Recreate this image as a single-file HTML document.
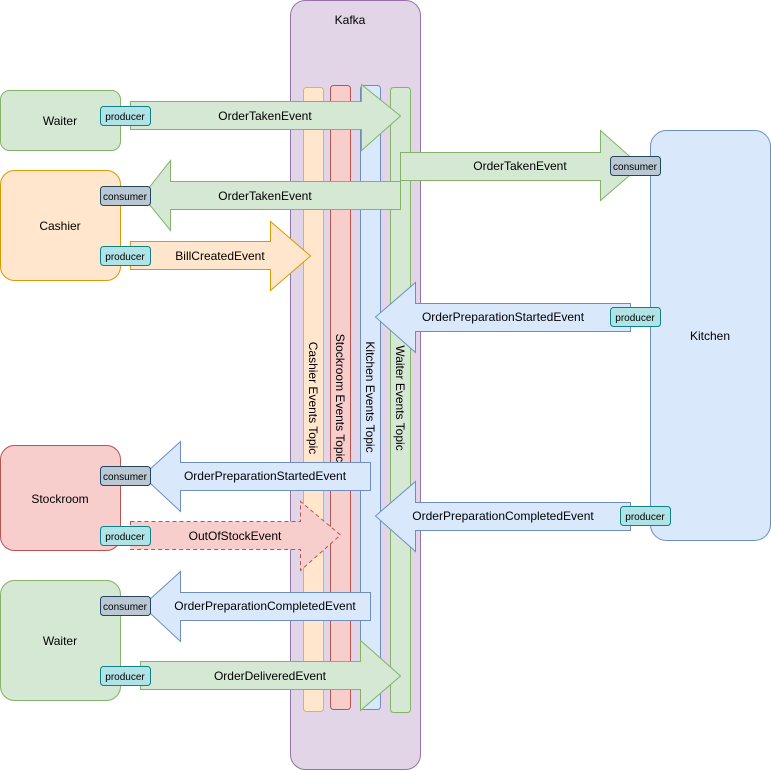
<!DOCTYPE html>
<html><head><meta charset="utf-8"><style>body{margin:0;background:#fff}svg{display:block}text{font-family:"Liberation Sans",Arial,sans-serif}</style></head><body>
<svg width="771" height="771" viewBox="0 0 771 771" xmlns="http://www.w3.org/2000/svg">
<rect x="290.5" y="0.5" width="130" height="769" rx="15" fill="#e1d5e7" stroke="#9673a6"/>
<text x="350" y="24" font-size="12" text-anchor="middle">Kafka</text>
<rect x="303.5" y="87.5" width="20" height="624" rx="3" fill="#ffe6cc" stroke="#d6b656"/>
<rect x="330.5" y="85.5" width="20" height="624" rx="3" fill="#f8cecc" stroke="#b85450"/>
<rect x="360.5" y="85.5" width="20" height="624" rx="3" fill="#dae8fc" stroke="#6c8ebf"/>
<rect x="390.5" y="87.5" width="20" height="625" rx="3" fill="#d5e8d4" stroke="#82b366"/>
<g font-size="12" text-anchor="middle">
<text transform="translate(309,398) rotate(90)">Cashier Events Topic</text>
<text transform="translate(336,398) rotate(90)">Stockroom Events Topic</text>
<text transform="translate(366,397) rotate(90)">Kitchen Events Topic</text>
<text transform="translate(396,398) rotate(90)">Waiter Events Topic</text>
</g>
<g font-size="12" text-anchor="middle">
<rect x="0.5" y="90.5" width="120" height="60" rx="9" fill="#d5e8d4" stroke="#82b366"/><text x="60" y="125">Waiter</text>
<rect x="0.5" y="170.5" width="120" height="110" rx="14" fill="#ffe6cc" stroke="#d79b00"/><text x="60" y="230">Cashier</text>
<rect x="0.5" y="445.5" width="120" height="105" rx="14" fill="#f8cecc" stroke="#b85450"/><text x="60" y="503">Stockroom</text>
<rect x="0.5" y="580.5" width="120" height="120" rx="14" fill="#d5e8d4" stroke="#82b366"/><text x="60" y="645">Waiter</text>
<rect x="650.5" y="130.5" width="120" height="410" rx="16" fill="#dae8fc" stroke="#6c8ebf"/><text x="710" y="340">Kitchen</text>
</g>
<g font-size="12" text-anchor="middle">
<polygon points="130.5,101.5 361.5,101.5 361.5,84.5 400.5,116 361.5,150.5 361.5,129.5 130.5,129.5" fill="#d5e8d4" stroke="#82b366"/><text x="265" y="120">OrderTakenEvent</text>
<polygon points="400.5,152.5 600.5,152.5 600.5,130.5 640.5,166 600.5,200.5 600.5,180.5 400.5,180.5" fill="#d5e8d4" stroke="#82b366"/><text x="520" y="170">OrderTakenEvent</text>
<polygon points="400.5,181.5 170.5,181.5 170.5,160.5 142.5,196 170.5,230.5 170.5,209.5 400.5,209.5" fill="#d5e8d4" stroke="#82b366"/><text x="265" y="200">OrderTakenEvent</text>
<polygon points="130.5,241.5 270.5,241.5 270.5,221.5 310.5,256 270.5,290.5 270.5,269.5 130.5,269.5" fill="#ffe6cc" stroke="#d79b00"/><text x="220" y="260">BillCreatedEvent</text>
<polygon points="630.5,303.5 415.5,303.5 415.5,282.5 375.5,317 415.5,352.5 415.5,331.5 630.5,331.5" fill="#dae8fc" stroke="#6c8ebf"/><text x="503" y="321">OrderPreparationStartedEvent</text>
<polygon points="370.5,462.5 180.5,462.5 180.5,441.5 142.5,476 180.5,511.5 180.5,490.5 370.5,490.5" fill="#dae8fc" stroke="#6c8ebf"/><text x="265" y="480">OrderPreparationStartedEvent</text>
<polygon points="130.5,521.5 300.5,521.5 300.5,501.5 340.5,535 300.5,570.5 300.5,549.5 130.5,549.5" fill="#f8cecc" stroke="#b85450" stroke-dasharray="4 3"/><text x="235" y="540">OutOfStockEvent</text>
<polygon points="630.5,502.5 415.5,502.5 415.5,481.5 375.5,516 415.5,551.5 415.5,530.5 630.5,530.5" fill="#dae8fc" stroke="#6c8ebf"/><text x="503" y="520">OrderPreparationCompletedEvent</text>
<polygon points="370.5,592.5 180.5,592.5 180.5,571.5 142.5,606 180.5,641.5 180.5,620.5 370.5,620.5" fill="#dae8fc" stroke="#6c8ebf"/><text x="265" y="610">OrderPreparationCompletedEvent</text>
<polygon points="140.5,661.5 360.5,661.5 360.5,640.5 400.5,676 360.5,710.5 360.5,689.5 140.5,689.5" fill="#d5e8d4" stroke="#82b366"/><text x="270" y="680">OrderDeliveredEvent</text>
</g>
<g font-size="10" text-anchor="middle">
<rect x="100.5" y="106.5" width="50" height="19" rx="3" fill="#b0e3e6" stroke="#0e8088"/><text x="125" y="120">producer</text>
<rect x="100.5" y="186.5" width="50" height="19" rx="3" fill="#bac8d3" stroke="#23445d"/><text x="125" y="200">consumer</text>
<rect x="100.5" y="246.5" width="50" height="19" rx="3" fill="#b0e3e6" stroke="#0e8088"/><text x="125" y="260">producer</text>
<rect x="610.5" y="156.5" width="50" height="19" rx="3" fill="#bac8d3" stroke="#23445d"/><text x="635" y="170">consumer</text>
<rect x="610.5" y="307.5" width="50" height="19" rx="3" fill="#b0e3e6" stroke="#0e8088"/><text x="635" y="321">producer</text>
<rect x="100.5" y="466.5" width="50" height="19" rx="3" fill="#bac8d3" stroke="#23445d"/><text x="125" y="480">consumer</text>
<rect x="100.5" y="526.5" width="50" height="19" rx="3" fill="#b0e3e6" stroke="#0e8088"/><text x="125" y="540">producer</text>
<rect x="620.5" y="506.5" width="50" height="19" rx="3" fill="#b0e3e6" stroke="#0e8088"/><text x="645" y="520">producer</text>
<rect x="100.5" y="596.5" width="50" height="19" rx="3" fill="#bac8d3" stroke="#23445d"/><text x="125" y="610">consumer</text>
<rect x="100.5" y="666.5" width="50" height="19" rx="3" fill="#b0e3e6" stroke="#0e8088"/><text x="125" y="680">producer</text>
</g>
</svg>
</body></html>
